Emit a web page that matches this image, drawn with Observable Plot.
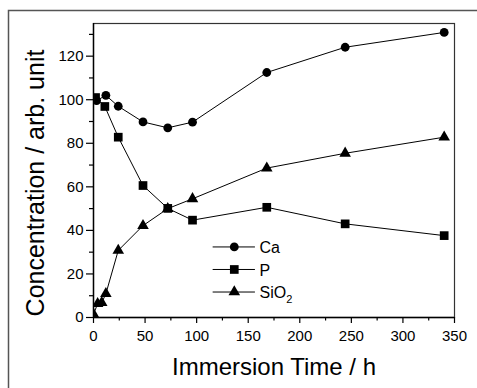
<!DOCTYPE html>
<html>
<head>
<meta charset="utf-8">
<script src="https://cdn.jsdelivr.net/npm/d3@7"></script>
<script src="https://cdn.jsdelivr.net/npm/@observablehq/plot@0.6"></script>
<style>
  html, body { margin: 0; padding: 0; background: #fff; }
  #chart { width: 477px; height: 388px; }
</style>
</head>
<body>
<div id="chart"></div>
<script>
// ---- data ----
const caTime  = [3, 12, 24, 48, 72, 96, 168, 244, 340];
const caValue = [99.6, 102, 97, 89.8, 87.1, 89.7, 112.5, 124.1, 130.9];

const pTime  = [2, 11, 24, 48, 72, 96, 168, 244, 340];
const pValue = [101, 96.9, 82.8, 60.6, 50.1, 44.7, 50.6, 43, 37.6];

const siTime  = [0, 4, 8, 12, 24, 48, 72, 96, 168, 244, 340];
const siValue = [1.5, 6.3, 6.8, 10.9, 30.8, 42.2, 50, 54.5, 68.6, 75.4, 82.8];

const seriesNames   = ["Ca", "P", "SiO2"];
const seriesSymbols = ["circle", "square", "triangle"];

const xMajorTicks = [0, 50, 100, 150, 200, 250, 300, 350];
const xMinorTicks = [25, 75, 125, 175, 225, 275, 325];
const yMajorTicks = [0, 20, 40, 60, 80, 100, 120];
const yMinorTicks = [10, 30, 50, 70, 90, 110, 130];

const xTitle = "Immersion Time / h";
const yTitle = "Concentration / arb. unit";

// ---- build table ----
const rows = [];
[[caTime, caValue], [pTime, pValue], [siTime, siValue]].forEach(([t, v], i) => {
  t.forEach((ti, j) => rows.push({series: seriesNames[i], symbol: seriesSymbols[i], t: ti, v: v[j]}));
});
const legendRows = seriesNames.map((s, i) => ({series: s, symbol: seriesSymbols[i], row: i}));

const symR = {circle: 4.4, square: 4.9, triangle: 4.3};
const font = "'Liberation Sans', Arial, Helvetica, sans-serif";

// legend placement (data units of the chart's scales)
const legX1 = 116, legX2 = 157, legXm = 136.5, legXt = 161;
const legY = r => 32.4 - r * 10.35;

const marks = [];
// connecting lines
seriesNames.forEach(s => {
  marks.push(Plot.line(rows.filter(d => d.series === s), {x: "t", y: "v", stroke: "#000", strokeWidth: 1, clip: true}));
});
// markers
seriesNames.forEach((s, i) => {
  const sym = seriesSymbols[i];
  marks.push(Plot.dot(rows.filter(d => d.series === s), {x: "t", y: "v", symbol: () => sym, r: symR[sym], fill: "#000", stroke: "none", clip: true}));
});
// legend
marks.push(Plot.ruleY(legendRows, {x1: legX1, x2: legX2, y: d => legY(d.row), stroke: "#000", strokeWidth: 1}));
legendRows.forEach(d => {
  marks.push(Plot.dot([d], {x: legXm, y: legY(d.row), symbol: () => d.symbol, r: symR[d.symbol], fill: "#000", stroke: "none"}));
});
marks.push(Plot.text(legendRows, {x: legXt, y: d => legY(d.row), text: "series", textAnchor: "start", fontSize: 16, fill: "#000", dy: 1}));

// frame and axes
marks.push(Plot.frame({stroke: "#333", strokeWidth: 1.2}));
marks.push(Plot.axisX({ticks: xMajorTicks, tickSize: 6, tickPadding: 7, fontSize: 15, label: null, tickFormat: d => String(d), stroke: "#000", strokeWidth: 1.2}));
marks.push(Plot.axisX({ticks: xMinorTicks, tickSize: 3.5, text: null, label: null, stroke: "#000", strokeWidth: 1.2}));
marks.push(Plot.axisY({ticks: yMajorTicks, tickSize: 7, tickPadding: 3, fontSize: 15, label: null, tickFormat: d => String(d), stroke: "#000", strokeWidth: 1.2}));
marks.push(Plot.axisY({ticks: yMinorTicks, tickSize: 4, text: null, label: null, stroke: "#000", strokeWidth: 1.2}));
marks.push(Plot.ruleX([0], {stroke: "#000", strokeWidth: 1.4}));
marks.push(Plot.ruleY([0], {stroke: "#000", strokeWidth: 1.4}));
// axis titles
marks.push(Plot.text([xTitle], {text: d => d, frameAnchor: "bottom", textAnchor: "middle", lineAnchor: "middle", dy: 50, fontSize: 24, fill: "#000"}));
marks.push(Plot.text([yTitle], {text: d => d, frameAnchor: "left", textAnchor: "middle", lineAnchor: "middle", rotate: -90, dx: -58, dy: 12.5, fontSize: 25, fill: "#000"}));

const chart = Plot.plot({
  width: 477,
  height: 388,
  marginLeft: 93,
  marginRight: 23,
  marginTop: 23,
  marginBottom: 71,
  style: {fontFamily: font, color: "#000", background: "#fff", overflow: "visible"},
  x: {domain: [0, 350]},
  y: {domain: [0, 135]},
  marks
});

// subscript for SiO2 in the legend
d3.select(chart).selectAll("text").each(function () {
  if (this.textContent === "SiO2") {
    this.textContent = "SiO";
    d3.select(this).append("tspan").attr("dy", "0.45em").attr("font-size", "11").text("2");
  }
});
// outer gray frame of the figure (top and left sides visible)
d3.select(chart).append("path")
  .attr("d", "M8.5,388 V10.5 H477")
  .attr("fill", "none").attr("stroke", "#555").attr("stroke-width", 1.5);

document.getElementById("chart").appendChild(chart);
</script>
</body>
</html>
